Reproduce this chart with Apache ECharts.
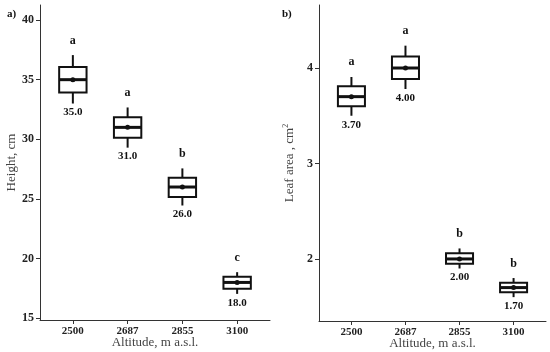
<!DOCTYPE html>
<html>
<head>
<meta charset="utf-8">
<script src="https://cdn.jsdelivr.net/npm/echarts@6/dist/echarts.min.js"></script>
<style>html,body{margin:0;padding:0;background:#fff}#c{width:550px;height:352px}</style>
</head>
<body>
<div id="c"></div>
<script>
const categories = ['2500', '2687', '2855', '3100'];

const heightLow    = [33.0, 29.3, 24.45, 17.04];
const heightQ1     = [33.93, 30.13, 25.17, 17.46];
const heightMedian = [35.0, 31.0, 26.0, 18.0];
const heightQ3     = [36.06, 31.84, 26.77, 18.47];
const heightHigh   = [37.06, 32.67, 27.56, 18.86];
const heightLetters = ['a', 'a', 'b', 'c'];
const heightLabels = ['35.0', '31.0', '26.0', '18.0'];
const heightTicks = [15, 20, 25, 30, 35, 40];

const leafLow    = [3.50, 3.78, 1.90, 1.60];
const leafQ1     = [3.60, 3.885, 1.95, 1.65];
const leafMedian = [3.70, 4.00, 2.00, 1.70];
const leafQ3     = [3.81, 4.12, 2.06, 1.75];
const leafHigh   = [3.906, 4.234, 2.11, 1.80];
const leafLetters = ['a', 'a', 'b', 'b'];
const leafLabels = ['3.70', '4.00', '2.00', '1.70'];
const leafTicks = [2, 3, 4];

const xTicks = [0, 1, 2, 3];
const FONT = '"Liberation Serif", "Times New Roman", serif';

function rows(lo, q1, med, q3, hi) {
  return categories.map((c, i) => [i, lo[i], q1[i], med[i], q3[i], hi[i]]);
}

function makeRender(letters, labels) {
  return function (params, api) {
    const x = api.value(0);
    const lo = api.coord([x, api.value(1)]);
    const q1 = api.coord([x, api.value(2)]);
    const md = api.coord([x, api.value(3)]);
    const q3 = api.coord([x, api.value(4)]);
    const hi = api.coord([x, api.value(5)]);
    const w = api.size([0.5, 0])[0];
    const cx = md[0];
    const stroke = '#111';
    return {
      type: 'group',
      children: [
        {type: 'line', shape: {x1: cx, y1: lo[1], x2: cx, y2: q1[1]}, style: {stroke, lineWidth: 2}},
        {type: 'line', shape: {x1: cx, y1: q3[1], x2: cx, y2: hi[1]}, style: {stroke, lineWidth: 2}},
        {type: 'rect', shape: {x: cx - w / 2, y: q3[1], width: w, height: q1[1] - q3[1]}, style: {stroke, fill: '#fff', lineWidth: 2}},
        {type: 'line', shape: {x1: cx - w / 2, y1: md[1], x2: cx + w / 2, y2: md[1]}, style: {stroke, lineWidth: 3}},
        {type: 'circle', shape: {cx: cx, cy: md[1], r: 2.5}, style: {fill: stroke}},
        {type: 'text', style: {text: letters[params.dataIndex], x: cx, y: hi[1] - 14.6, align: 'center', verticalAlign: 'middle', font: 'bold 12px ' + FONT, fill: '#111'}},
        {type: 'text', style: {text: labels[params.dataIndex], x: cx, y: lo[1] + 9, align: 'center', verticalAlign: 'middle', font: 'bold 11px ' + FONT, fill: '#111'}}
      ]
    };
  };
}

function xAxisDef(gridIndex) {
  return {
    type: 'value', gridIndex, min: -0.6, max: 3.6,
    name: 'Altitude, m a.s.l.', nameLocation: 'middle', nameGap: 16, nameMoveOverlap: false,
    nameTextStyle: {fontFamily: FONT, fontSize: 13, color: '#444'},
    axisLine: {show: true, onZero: false, lineStyle: {color: '#333', width: 1}},
    axisTick: {show: true, length: 4, customValues: xTicks, lineStyle: {color: '#333'}},
    axisLabel: {customValues: xTicks, formatter: v => categories[Math.round(v)], margin: 6,
      fontFamily: FONT, fontSize: 11, fontWeight: 'bold', color: '#222'},
    splitLine: {show: false}
  };
}

function yAxisDef(gridIndex, min, max, ticks, name) {
  return {
    type: 'value', gridIndex, min, max,
    name, nameLocation: 'middle', nameGap: 22, nameMoveOverlap: false,
    nameTextStyle: {fontFamily: FONT, fontSize: 13, color: '#444',
      rich: {sup: {fontFamily: FONT, fontSize: 8, color: '#444', verticalAlign: 'top', padding: [0, 0, 7, 0]}}},
    axisLine: {show: true, onZero: false, lineStyle: {color: '#333', width: 1}},
    axisTick: {show: true, length: 4, customValues: ticks, lineStyle: {color: '#333'}},
    axisLabel: {customValues: ticks, margin: 6, fontFamily: FONT, fontSize: 12, fontWeight: 'bold', color: '#222'},
    splitLine: {show: false}
  };
}

const chart = echarts.init(document.getElementById('c'), null, {renderer: 'canvas'});
chart.setOption({
  backgroundColor: '#fff',
  animation: false,
  title: [
    {text: 'a)', left: 2, top: 4, textStyle: {fontFamily: FONT, fontSize: 11, fontWeight: 'bold', color: '#111'}},
    {text: 'b)', left: 277, top: 4, textStyle: {fontFamily: FONT, fontSize: 11, fontWeight: 'bold', color: '#111'}}
  ],
  grid: [
    {left: 40, right: 280, top: 5, bottom: 32, containLabel: false, outerBoundsMode: 'none'},
    {left: 319, right: 4, top: 5, bottom: 31, containLabel: false, outerBoundsMode: 'none'}
  ],
  xAxis: [xAxisDef(0), xAxisDef(1)],
  yAxis: [
    yAxisDef(0, 14.85, 41.26, heightTicks, 'Height, cm'),
    yAxisDef(1, 1.35, 4.66, leafTicks, 'Leaf area , cm{sup|2}')
  ],
  series: [
    {type: 'custom', xAxisIndex: 0, yAxisIndex: 0, renderItem: makeRender(heightLetters, heightLabels),
      data: rows(heightLow, heightQ1, heightMedian, heightQ3, heightHigh), encode: {x: 0, y: [1, 2, 3, 4, 5]}},
    {type: 'custom', xAxisIndex: 1, yAxisIndex: 1, renderItem: makeRender(leafLetters, leafLabels),
      data: rows(leafLow, leafQ1, leafMedian, leafQ3, leafHigh), encode: {x: 0, y: [1, 2, 3, 4, 5]}}
  ]
});
</script>
</body>
</html>
